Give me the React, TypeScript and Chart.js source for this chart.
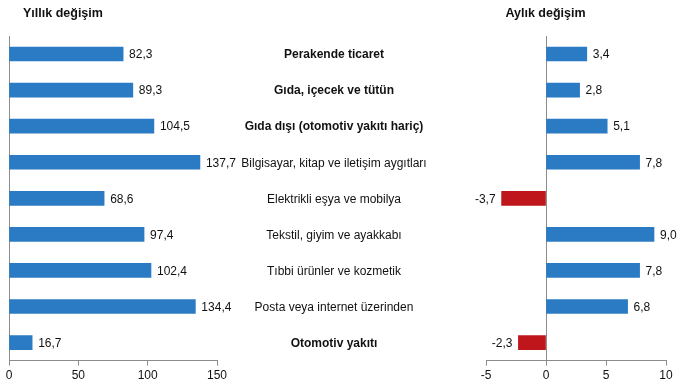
import React, { useEffect, useRef } from "react";
import { Chart, registerables } from "chart.js";

Chart.register(...registerables);

const categories = [
  "Perakende ticaret",
  "Gıda, içecek ve tütün",
  "Gıda dışı (otomotiv yakıtı hariç)",
  "Bilgisayar, kitap ve iletişim aygıtları",
  "Elektrikli eşya ve mobilya",
  "Tekstil, giyim ve ayakkabı",
  "Tıbbi ürünler ve kozmetik",
  "Posta veya internet üzerinden",
  "Otomotiv yakıtı",
];
const boldCategories = [true, true, true, false, false, false, false, false, true];
const annualValues = [82.3, 89.3, 104.5, 137.7, 68.6, 97.4, 102.4, 134.4, 16.7];
const monthlyValues = [3.4, 2.8, 5.1, 7.8, -3.7, 9.0, 7.8, 6.8, -2.3];
const annualTitle = "Yıllık değişim";
const monthlyTitle = "Aylık değişim";

const BLUE = "#2A7BC3";
const RED = "#BE161B";
const AXIS = "#8C8C8C";
const FONT = "'Liberation Sans', Arial, sans-serif";

const fmt = (v: number) => v.toFixed(1).replace(".", ",");

function valueLabelPlugin(id: string) {
  return {
    id,
    afterDatasetsDraw(chart: any) {
      const ctx = chart.ctx;
      const meta = chart.getDatasetMeta(0);
      const data = chart.data.datasets[0].data as number[];
      ctx.save();
      ctx.font = `12px ${FONT}`;
      ctx.fillStyle = "#111";
      ctx.textBaseline = "middle";
      meta.data.forEach((bar: any, i: number) => {
        const v = data[i];
        if (v >= 0) {
          ctx.textAlign = "left";
          ctx.fillText(fmt(v), bar.x + 6, bar.y + 1);
        } else {
          ctx.textAlign = "right";
          ctx.fillText(fmt(v), bar.x - 6, bar.y + 1);
        }
      });
      ctx.restore();
    },
  };
}

const categoryPlugin = {
  id: "categoryLabels",
  afterDraw(chart: any) {
    const ctx = chart.ctx;
    const yScale = chart.scales.y;
    ctx.save();
    ctx.fillStyle = "#111";
    ctx.textAlign = "center";
    ctx.textBaseline = "middle";
    categories.forEach((c, i) => {
      ctx.font = `${boldCategories[i] ? "bold " : ""}12px ${FONT}`;
      ctx.fillText(c, 334, yScale.getPixelForValue(i) + 1);
    });
    ctx.restore();
  },
};

function titlePlugin(text: string, x: number, align: CanvasTextAlign) {
  return {
    id: "panelTitle",
    afterDraw(chart: any) {
      const ctx = chart.ctx;
      ctx.save();
      ctx.font = `bold 12.5px ${FONT}`;
      ctx.fillStyle = "#111";
      ctx.textAlign = align;
      ctx.textBaseline = "middle";
      ctx.fillText(text, x, 14);
      ctx.restore();
    },
  };
}

function makeOptions(min: number, max: number, padding: any) {
  return {
    indexAxis: "y" as const,
    responsive: false,
    animation: false as const,
    layout: { padding },
    plugins: { legend: { display: false }, tooltip: { enabled: false } },
    scales: {
      x: {
        min,
        max,
        ticks: {
          stepSize: 5,
          color: "#111",
          font: { size: 12, family: FONT },
          padding: 3,
        },
        grid: {
          drawOnChartArea: true,
          color: (c: any) => (c.tick && c.tick.value === 0 ? AXIS : "rgba(0,0,0,0)"),
          tickColor: AXIS,
          tickLength: 5,
          lineWidth: 1,
        },
        border: { display: true, color: AXIS },
      },
      y: {
        display: false,
        type: "category" as const,
      },
    },
  };
}

export default function App() {
  const leftRef = useRef<HTMLCanvasElement>(null);
  const rightRef = useRef<HTMLCanvasElement>(null);

  useEffect(() => {
    const leftOpts: any = makeOptions(0, 150, { left: 9, right: 253, top: 36, bottom: 2 });
    leftOpts.scales.x.ticks.stepSize = 50;
    const left = new Chart(leftRef.current!, {
      type: "bar",
      data: {
        labels: categories,
        datasets: [
          {
            data: annualValues,
            backgroundColor: BLUE,
            barThickness: 14,
          },
        ],
      },
      options: leftOpts,
      plugins: [valueLabelPlugin("leftValues"), categoryPlugin, titlePlugin(annualTitle, 23, "left")],
    });

    const rightOpts: any = makeOptions(-5, 10, { left: 16, right: 19, top: 36, bottom: 2 });
    const right = new Chart(rightRef.current!, {
      type: "bar",
      data: {
        labels: categories,
        datasets: [
          {
            data: monthlyValues,
            backgroundColor: monthlyValues.map((v) => (v < 0 ? RED : BLUE)),
            barThickness: 14,
          },
        ],
      },
      options: rightOpts,
      plugins: [valueLabelPlugin("rightValues"), titlePlugin(monthlyTitle, 75.5, "center")],
    });

    return () => {
      left.destroy();
      right.destroy();
    };
  }, []);

  return (
    <div style={{ position: "fixed", left: 0, top: 0, width: 685, height: 388, background: "#fff" }}>
      <canvas ref={leftRef} width={470} height={388} style={{ position: "absolute", left: 0, top: 0 }} />
      <canvas ref={rightRef} width={215} height={388} style={{ position: "absolute", left: 470, top: 0 }} />
    </div>
  );
}
